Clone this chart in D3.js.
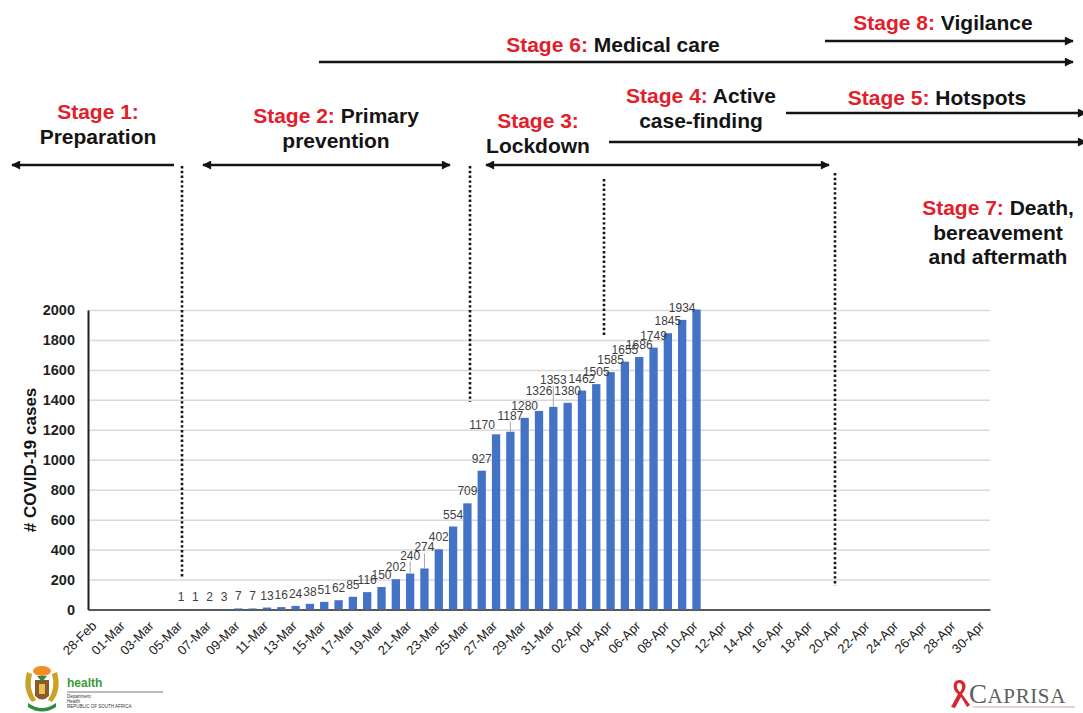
<!DOCTYPE html>
<html>
<head>
<meta charset="utf-8">
<script src="https://cdn.jsdelivr.net/npm/d3@7"></script>
<style>
  body { margin: 0; background: #fff; }
  svg { font-family: "Liberation Sans", Arial, sans-serif; }
</style>
</head>
<body>
<script>
// daily cumulative cases, first value is 05-Mar
let firstCaseDay = new Date(2020, 2, 5);
let caseCounts = [1, 1, 2, 3, 7, 7, 13, 16, 24, 38, 51, 62, 85, 116, 150, 202, 240, 274,
    402, 554, 709, 927, 1170, 1187, 1280, 1326, 1353, 1380, 1462, 1505, 1585, 1655,
    1686, 1749, 1845, 1934, 2003];
// the last bar carries no label in the original
let labelledBars = caseCounts.length - 1;
let days = d3.timeDay.range(new Date(2020, 1, 28), new Date(2020, 4, 1));
let yTicks = [0, 200, 400, 600, 800, 1000, 1200, 1400, 1600, 1800, 2000];

let width = 1083;
let height = 713;
let plotLeft = 88;
let plotRight = 990;
let plotTop = 310;
let plotBottom = 609.5;

let red = '#e2202b';
let ink = '#141414';
let fmt = d3.timeFormat('%d-%b');

// labels that were dragged off their bar in the original (dx, dy, leader line)
let labelMoves = {
    240: [0, -6, true],
    274: [0, -9, true],
    1170: [-14, 3, false],
    1187: [0, -4, true],
    1326: [0, -8, false],
    1353: [0, -15, true]
};

let svg = d3.select('body').append('svg')
    .attr('width', width)
    .attr('height', height);

let xScale, yScale;

function generateScales() {
    xScale = d3.scaleBand()
        .domain(days.map(d => fmt(d)))
        .range([plotLeft, plotRight])
        .paddingInner(0.42)
        .paddingOuter(0.21);
    yScale = d3.scaleLinear()
        .domain([0, 2000])
        .range([plotBottom, plotTop]);
}

function drawAxis() {
    // gridlines
    svg.append('g')
        .attr('transform', 'translate(' + plotLeft + ',0)')
        .call(d3.axisLeft(yScale).tickValues(yTicks.slice(1)).tickSize(-(plotRight - plotLeft)).tickFormat(''))
        .call(g => g.select('.domain').remove())
        .selectAll('line')
        .attr('stroke', '#d9d9d9')
        .attr('stroke-width', 1.5);

    let yAxis = svg.append('g')
        .attr('transform', 'translate(' + plotLeft + ',0)')
        .call(d3.axisLeft(yScale).tickValues(yTicks).tickSize(0).tickPadding(13).tickFormat(d3.format('d')));
    yAxis.select('.domain').attr('stroke', '#222').attr('stroke-width', 2);
    yAxis.selectAll('text')
        .attr('font-family', 'Liberation Sans, Arial, sans-serif')
        .attr('font-size', 14.5)
        .attr('font-weight', 'bold')
        .attr('fill', '#1f1f1f');

    let xAxis = svg.append('g')
        .attr('transform', 'translate(0,' + plotBottom + ')')
        .call(d3.axisBottom(xScale)
            .tickValues(days.filter((d, i) => i % 2 == 0).map(d => fmt(d)))
            .tickSize(0));
    xAxis.select('.domain').attr('stroke', '#222').attr('stroke-width', 1.6);
    xAxis.selectAll('text')
        .attr('font-family', 'Liberation Sans, Arial, sans-serif')
        .attr('font-size', 13)
        .attr('fill', '#222')
        .attr('text-anchor', 'end')
        .attr('dy', 0)
        .attr('transform', 'translate(0,15) rotate(-45)');

    svg.append('text')
        .attr('transform', 'translate(36,460) rotate(-90)')
        .attr('text-anchor', 'middle')
        .attr('font-size', 17)
        .attr('font-weight', 'bold')
        .attr('fill', ink)
        .text('# COVID-19 cases');
}

function drawBars() {
    let rows = caseCounts.map((v, i) => ({
        day: fmt(d3.timeDay.offset(firstCaseDay, i)),
        value: v,
        labelled: i < labelledBars,
        move: labelMoves[v] || [0, 0, false]
    }));

    svg.append('g').selectAll('rect')
        .data(rows)
        .enter()
        .append('rect')
        .attr('x', d => xScale(d.day))
        .attr('width', xScale.bandwidth())
        .attr('y', d => yScale(d.value))
        .attr('height', d => plotBottom - yScale(d.value))
        .attr('fill', '#4472c4');

    let labelled = rows.filter(d => d.labelled);
    let cx = d => xScale(d.day) + xScale.bandwidth() / 2;

    svg.append('g').selectAll('line')
        .data(labelled.filter(d => d.move[2]))
        .enter()
        .append('line')
        .attr('x1', cx).attr('x2', cx)
        .attr('y1', d => yScale(d.value) - 8 + d.move[1] + 2)
        .attr('y2', d => yScale(d.value))
        .attr('stroke', '#a6a6a6')
        .attr('stroke-width', 1);

    svg.append('g').selectAll('text')
        .data(labelled)
        .enter()
        .append('text')
        .attr('x', d => cx(d) + d.move[0])
        .attr('y', d => yScale(d.value) - 8 + d.move[1])
        .attr('text-anchor', 'middle')
        .attr('font-size', 12)
        .attr('fill', '#404040')
        .text(d => d.value);
}

function note(x, y, lines) {
    let t = svg.append('text')
        .attr('x', x)
        .attr('y', y)
        .attr('text-anchor', 'middle')
        .attr('font-size', 21)
        .attr('font-weight', 'bold')
        .attr('fill', ink);
    lines.forEach((ln, i) => {
        let first = t.append('tspan').attr('x', x).attr('dy', i == 0 ? 0 : 24.5);
        if (ln[0]) {
            first.attr('fill', red).text(ln[0]);
            t.append('tspan').text(ln[1]);
        } else {
            first.text(ln[1]);
        }
    });
}

function arrow(x1, x2, y, startHead, endHead) {
    let l = svg.append('line')
        .attr('x1', x1).attr('x2', x2)
        .attr('y1', y).attr('y2', y)
        .attr('stroke', ink)
        .attr('stroke-width', 2.6);
    if (startHead) l.attr('marker-start', 'url(#head)');
    if (endHead) l.attr('marker-end', 'url(#head)');
}

function dotted(x, y1, y2) {
    svg.append('line')
        .attr('x1', x).attr('x2', x)
        .attr('y1', y1).attr('y2', y2)
        .attr('stroke', ink)
        .attr('stroke-width', 2.6)
        .attr('stroke-dasharray', '2.4,2.4');
}

function drawStages() {
    svg.append('defs').append('marker')
        .attr('id', 'head')
        .attr('viewBox', '0 0 10 10')
        .attr('refX', 9).attr('refY', 5)
        .attr('markerUnits', 'userSpaceOnUse')
        .attr('markerWidth', 10).attr('markerHeight', 9)
        .attr('orient', 'auto-start-reverse')
        .append('path')
        .attr('d', 'M0,0 L10,5 L0,10 z')
        .attr('fill', ink);

    note(943, 30, [['Stage 8: ', 'Vigilance']]);
    note(613, 52, [['Stage 6: ', 'Medical care']]);
    note(98, 119, [['Stage 1:', ''], ['', 'Preparation']]);
    note(336, 123, [['Stage 2: ', 'Primary'], ['', 'prevention']]);
    note(538, 128, [['Stage 3:', ''], ['', 'Lockdown']]);
    note(701, 103, [['Stage 4: ', 'Active'], ['', 'case-finding']]);
    note(937, 105, [['Stage 5: ', 'Hotspots']]);
    note(998, 215, [['Stage 7: ', 'Death,'], ['', 'bereavement'], ['', 'and aftermath']]);

    arrow(825, 1073, 41, false, true);
    arrow(319, 1073, 62, false, true);
    arrow(786, 1086, 113, false, true);
    arrow(609, 1086, 142, false, true);
    arrow(12, 174, 165, true, false);
    arrow(203, 450, 165, true, true);
    arrow(486, 829, 165, true, true);

    dotted(182, 166, 578);
    dotted(470, 166, 402);
    dotted(604, 179, 337);
    dotted(835, 173, 586);
}

function drawLogos() {
    // health department crest, rough
    let crest = svg.append('g');
    crest.append('ellipse').attr('cx', 42).attr('cy', 671).attr('rx', 9).attr('ry', 5).attr('fill', '#f28c28');
    crest.append('path').attr('d', 'M27,672 Q22,690 32,702 L36,700 Q28,688 32,674 z').attr('fill', '#c9a227');
    crest.append('path').attr('d', 'M57,672 Q62,690 52,702 L48,700 Q56,688 52,674 z').attr('fill', '#c9a227');
    crest.append('path').attr('d', 'M35,680 L49,680 L49,696 Q42,703 35,696 z').attr('fill', '#8a5a2b');
    crest.append('rect').attr('x', 39).attr('y', 684).attr('width', 6).attr('height', 10).attr('fill', '#e6c15a');
    crest.append('path').attr('d', 'M28,703 Q42,713 56,703 L56,707 Q42,716 28,707 z').attr('fill', '#2e8b3a');
    crest.append('path').attr('d', 'M37,676 L47,676 L42,682 z').attr('fill', '#2e8b3a');

    svg.append('text').attr('x', 67).attr('y', 687)
        .attr('font-size', 12).attr('font-weight', 'bold').attr('fill', '#3c9a3c').text('health');
    svg.append('line').attr('x1', 67).attr('x2', 163).attr('y1', 692).attr('y2', 692)
        .attr('stroke', '#555').attr('stroke-width', 0.8);
    ['Department:', 'Health', 'REPUBLIC OF SOUTH AFRICA'].forEach((s, i) => {
        svg.append('text').attr('x', 67).attr('y', 698 + i * 5)
            .attr('font-size', 4.5).attr('fill', '#333').text(s);
    });

    // CAPRISA
    svg.append('path')
        .attr('d', 'M959,680 C952,680 952,690 958,694 L951,707 L955,708 L961,697 L967,707 L970,705 L962,694 C968,688 966,680 959,680 z M959,683 C963,683 963,689 960,692 C956,689 956,683 959,683 z')
        .attr('fill', '#d7262e');
    let cap = svg.append('text').attr('x', 969).attr('y', 703)
        .attr('font-family', 'Liberation Serif, DejaVu Serif, serif')
        .attr('letter-spacing', 0.6)
        .attr('fill', '#5e5e5e');
    cap.append('tspan').attr('font-size', 27).text('C');
    cap.append('tspan').attr('font-size', 21).text('APRISA');
    svg.append('line').attr('x1', 973).attr('x2', 1075).attr('y1', 707).attr('y2', 707)
        .attr('stroke', '#c9a9a9').attr('stroke-width', 1);
}

generateScales();
drawAxis();
drawBars();
drawStages();
drawLogos();
</script>
</body>
</html>
